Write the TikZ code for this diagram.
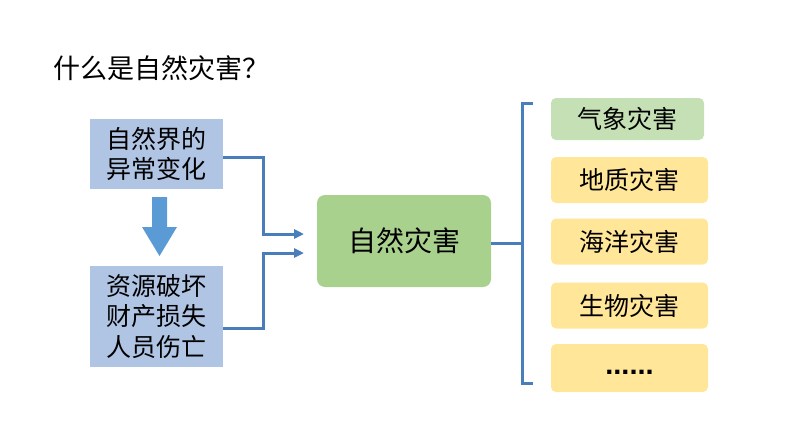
\documentclass[tikz,border=0pt]{standalone}
\usepackage{fontspec}
\setmainfont{Noto Sans CJK SC}
\newfontfamily\dotsfont{Liberation Sans}
\usetikzlibrary{arrows.meta}
\definecolor{boxblue}{HTML}{B0C4E4}
\definecolor{centgreen}{HTML}{A9D18E}
\definecolor{litegreen}{HTML}{C5E0B4}
\definecolor{boxyellow}{HTML}{FFE699}
\definecolor{linkblue}{HTML}{4A7EBB}
\definecolor{arrowblue}{HTML}{5B9BD5}
\begin{document}
\begin{tikzpicture}[x=1pt,y=-1pt,
  causebox/.style={fill=boxblue,draw=none,inner sep=0pt,align=center,font=\fontsize{25}{30.5}\selectfont},
  typebox/.style={rounded corners=5pt,draw=none,inner sep=0pt,minimum height=46pt,minimum width=157pt,font=\fontsize{25}{30}\selectfont},
  link/.style={draw=linkblue,line width=3pt},
  linkarrow/.style={link,-{Triangle[length=10pt,width=9pt]}}]
\useasboundingbox (0,0) rectangle (794,447);
\node[anchor=west,font=\fontsize{27}{32}\selectfont] (title) at (50,68) {什么是自然灾害？};
\node[causebox,minimum width=133pt,minimum height=70pt] (b1) at (156.5,154) {自然界的\\异常变化};
\node[causebox,minimum width=133pt,minimum height=101pt] (b2) at (156.5,316.5) {资源破坏\\财产损失\\人员伤亡};
\fill[arrowblue] (152,197) -- (167,197) -- (167,227) -- (177,227) -- (159.5,256) -- (142,227) -- (152,227) -- cycle;
\node[fill=centgreen,rounded corners=8pt,minimum width=174pt,minimum height=92pt,inner sep=0pt,font=\fontsize{28}{32}\selectfont] (nd) at (404,241) {自然灾害};
\coordinate (in1) at (304,234);
\coordinate (in2) at (304,253);
\draw[linkarrow] (b1.east |- 0,157) -- (263,157) |- (in1);
\draw[linkarrow] (b2.east |- 0,328) -- (263,328) |- (in2);
\coordinate (br) at (522,243);
\draw[link] (nd.east |- br) -- (br);
\coordinate (brtop) at (533,103);
\coordinate (brbot) at (533,383);
\draw[link] (brtop) -- (522,103) -- (522,383) -- (brbot);
\node[typebox,fill=litegreen,minimum width=153pt,minimum height=42pt] (t1) at (627.5,119) {气象灾害};
\node[typebox,fill=boxyellow] (t2) at (629.5,180) {地质灾害};
\node[typebox,fill=boxyellow] (t3) at (629.5,241.5) {海洋灾害};
\node[typebox,fill=boxyellow,minimum height=48pt] (t5) at (629.5,368) {};
\node[font=\fontsize{29}{30}\dotsfont\bfseries,inner sep=0pt,anchor=base] (dots) at (629.5,374) {......};
\node[typebox,fill=boxyellow] (t4) at (629.5,305.5) {生物灾害};
\end{tikzpicture}
\end{document}
